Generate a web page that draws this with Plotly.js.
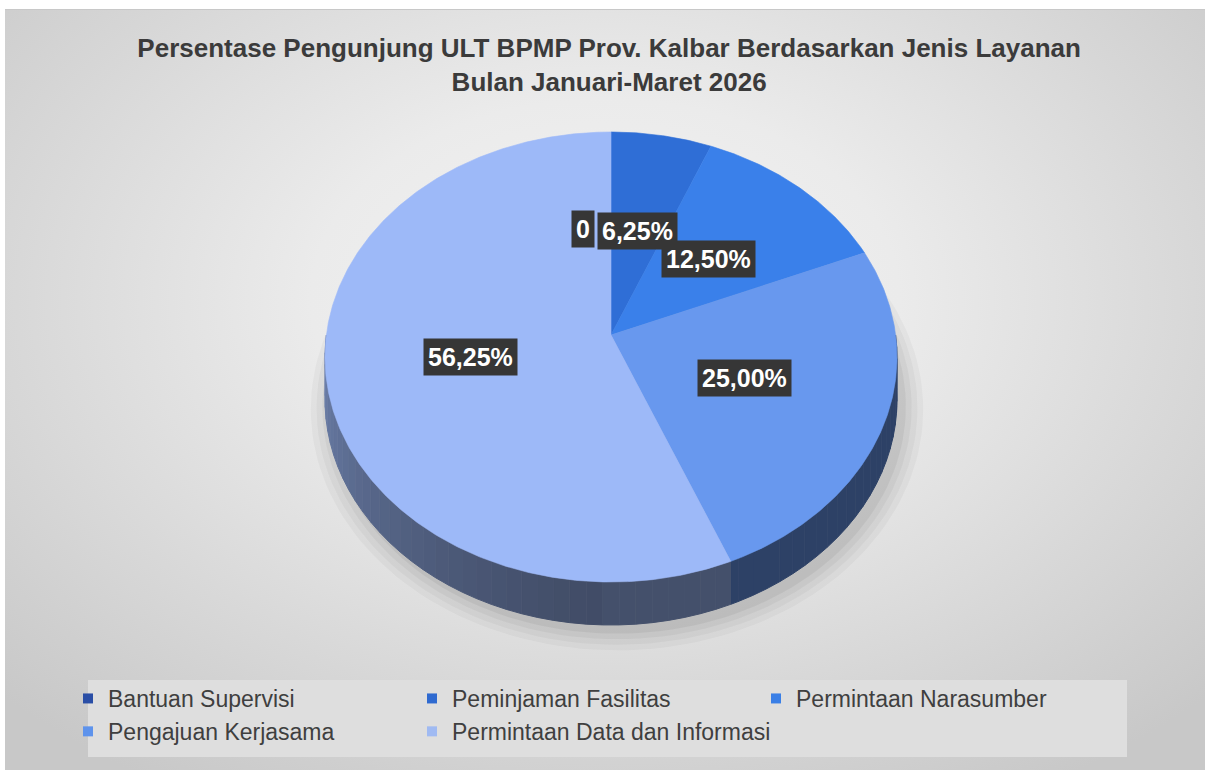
<!DOCTYPE html>
<html>
<head>
<meta charset="utf-8">
<script src="https://cdn.plot.ly/plotly-3.0.1.min.js"></script>
<style>
  html, body { margin: 0; padding: 0; background: #ffffff; }
  #wrap { position: relative; width: 1205px; height: 770px; overflow: hidden; background: #ffffff; }
  #card { position: absolute; left: 5px; top: 9px; width: 1200px; height: 761px;
          background: radial-gradient(ellipse 70% 75% at 50% 38%, #f3f3f3 0%, #ebebeb 35%, #d8d8d8 70%, #c8c8c8 100%);
          border-top: 1px solid #c8c8c8; }
  #chart { position: absolute; left: 0; top: 0; width: 1205px; height: 770px; }
</style>
</head>
<body>
<div id="wrap">
  <div id="card"></div>
  <div id="chart"></div>
</div>
<script>
// ---- data ----
const categories = ['Bantuan Supervisi', 'Peminjaman Fasilitas', 'Permintaan Narasumber', 'Pengajuan Kerjasama', 'Permintaan Data dan Informasi'];
const percentages = [0, 6.25, 12.50, 25.00, 56.25];
const labelTexts = ['0', '6,25%', '12,50%', '25,00%', '56,25%'];
const titleLines = ['Persentase Pengunjung ULT BPMP Prov. Kalbar Berdasarkan Jenis Layanan', 'Bulan Januari-Maret 2026'];

// ---- style ----
const sliceColors = ['#2B52A6', '#2F6ED6', '#3A80EA', '#6898EE', '#9DB9F8'];
const legendColors = ['#2A4EA6', '#2F6AD0', '#3A7FE6', '#5E93EC', '#A0BAF2'];

// pie geometry (pixels in the axis space)
const G = { cx: 611, vy: 335, top: 132, bottom: 582, rx: 286, depth: 43 };
const dP = (2 * G.vy - G.top - G.bottom) / (G.top - G.bottom);
const aP = G.top * (1 + dP) - G.vy;
const kP = G.rx * Math.sqrt(1 - dP * dP);
const rad = Math.PI / 180;

function proj(tDeg, f, dz) {
  const c = f * Math.cos(tDeg * rad), s = f * Math.sin(tDeg * rad);
  const den = 1 + dP * c;
  return [G.cx + kP * s / den, (aP * c + G.vy) / den + dz];
}
function hexToRgb(h) { const n = parseInt(h.slice(1), 16); return [(n >> 16) & 255, (n >> 8) & 255, n & 255]; }
function shade(hex, k) { const c = hexToRgb(hex); return 'rgb(' + c.map(v => Math.round(v * k)).join(',') + ')'; }

const total = percentages.reduce((s, v) => s + v, 0);
const starts = [], ends = [];
let acc = 0;
percentages.forEach(v => { starts.push(acc / total * 360); acc += v; ends.push(acc / total * 360); });

const traces = [];

// soft shadow
[[1.07, 0.03], [1.05, 0.035], [1.03, 0.04], [1.01, 0.05]].forEach(([f, op]) => {
  const xs = [], ys = [];
  for (let t = 0; t <= 360; t += 2) { const p = proj(t, f, G.depth + 6); xs.push(p[0] + 6); ys.push(p[1]); }
  traces.push({ type: 'scatter', x: xs, y: ys, mode: 'lines', fill: 'toself', fillcolor: 'rgba(0,0,0,' + op + ')',
    line: { width: 0 }, hoverinfo: 'skip', showlegend: false });
});

// side walls (front half only)
percentages.forEach((v, i) => {
  const a0 = Math.max(starts[i], 90), a1 = Math.min(ends[i], 270);
  if (a1 <= a0) return;
  const step = 3;
  for (let t = a0; t < a1; t += step) {
    const tb = Math.min(t + step, a1);
    const xs = [], ys = [];
    for (let u = t; u <= tb + 1e-9; u += 0.5) { const p = proj(u, 1, 0); xs.push(p[0]); ys.push(p[1]); }
    for (let u = tb; u >= t - 1e-9; u -= 0.5) { const p = proj(u, 1, G.depth); xs.push(p[0]); ys.push(p[1]); }
    const tm = (t + tb) / 2;
    const k = tm <= 180 ? 0.43 : 0.41 + 0.29 * Math.pow((tm - 180) / 90, 1.3);
    const col = shade(sliceColors[i], k);
    traces.push({ type: 'scatter', x: xs, y: ys, mode: 'lines', fill: 'toself', fillcolor: col,
      line: { width: 1, color: col }, hoverinfo: 'skip', showlegend: false });
  }
});

// top faces
percentages.forEach((v, i) => {
  const xs = [G.cx], ys = [G.vy];
  for (let t = starts[i]; t <= ends[i] + 1e-9; t += 0.5) { const p = proj(t, 1, 0); xs.push(p[0]); ys.push(p[1]); }
  xs.push(G.cx); ys.push(G.vy);
  traces.push({ type: 'scatter', x: xs, y: ys, mode: 'lines', fill: 'toself', fillcolor: sliceColors[i],
    line: { width: 0.6, color: sliceColors[i] }, name: categories[i],
    hoveron: 'fills', hoverinfo: 'name', showlegend: false });
});

// legend entries
categories.forEach((c, i) => {
  traces.push({ type: 'scatter', x: [null], y: [null], mode: 'markers', name: c,
    marker: { symbol: 'square', size: 10, color: legendColors[i] }, hoverinfo: 'skip', showlegend: true });
});

// data labels
const annotations = percentages.map((v, i) => {
  const mid = (starts[i] + ends[i]) / 2;
  const p = proj(mid, 0.5, 0);
  return { x: p[0], y: p[1], xref: 'x', yref: 'y', text: labelTexts[i], showarrow: false,
    xshift: v === 0 ? -28 : 0,
    bgcolor: '#363636', borderpad: 4,
    font: { family: 'Liberation Sans, Arial, sans-serif', size: 25, color: '#ffffff', weight: 'bold' } };
});

const layout = {
  width: 1205, height: 770,
  margin: { l: 0, r: 0, t: 0, b: 0 },
  paper_bgcolor: 'rgba(0,0,0,0)', plot_bgcolor: 'rgba(0,0,0,0)',
  xaxis: { range: [0, 1205], visible: false, fixedrange: true },
  yaxis: { range: [770, 0], visible: false, fixedrange: true },
  title: { text: titleLines.join('<br>'), x: 0.5055, xanchor: 'center', y: 1 - 57 / 770, yanchor: 'top',
    font: { family: 'Liberation Sans, Arial, sans-serif', size: 26, color: '#3b3b3b', weight: 'bold' } },
  showlegend: true,
  legend: { orientation: 'h', x: 68 / 1205, xanchor: 'left', y: 1 - 677 / 770, yanchor: 'top',
    bgcolor: 'rgba(0,0,0,0)', entrywidth: 299, entrywidthmode: 'pixels',
    font: { family: 'Liberation Sans, Arial, sans-serif', size: 23, color: '#3f3f3f' } },
  shapes: [{ type: 'rect', xref: 'paper', yref: 'paper', x0: 88 / 1205, x1: 1127 / 1205, y0: 1 - 757 / 770, y1: 1 - 680 / 770,
    fillcolor: '#dedede', line: { width: 0 }, layer: 'below' }],
  annotations: annotations,
  hovermode: 'closest'
};

Plotly.newPlot('chart', traces, layout, { displayModeBar: false, staticPlot: false });
</script>
</body>
</html>
